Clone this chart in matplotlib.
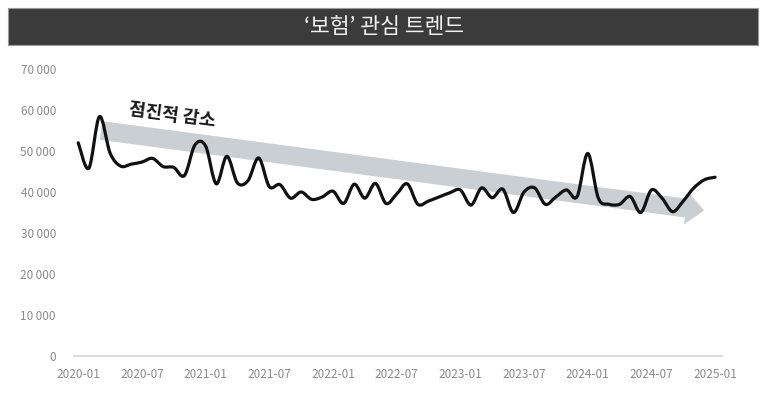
import numpy as np
import matplotlib
matplotlib.use('Agg')
import matplotlib.pyplot as plt
from matplotlib.path import Path
from matplotlib.patches import PathPatch, Polygon, Rectangle

plt.rcParams['font.family'] = ['Noto Sans CJK KR', 'DejaVu Sans']

# 월별 관심도 (2020-01 ~ 2025-01)
values = [52000, 45800, 58400, 49500, 46300, 46800, 47300, 48200, 46200, 46000,
          44000, 51500, 51200, 42000, 48700, 42200, 42800, 48300, 41300, 41800,
          38500, 40000, 38200, 38800, 40200, 37200, 41900, 38500, 42100, 37200,
          39500, 42000, 37000, 37800, 38800, 39800, 40500, 36800, 41000, 38600,
          40700, 35000, 40000, 41000, 37000, 38800, 40500, 38900, 49400, 38500,
          37000, 37000, 38900, 35000, 40500, 38500, 35200, 37800, 41000, 43000,
          43600]
tick_labels = ['2020-01', '2020-07', '2021-01', '2021-07', '2022-01', '2022-07',
               '2023-01', '2023-07', '2024-01', '2024-07', '2025-01']
yticks = [0, 10000, 20000, 30000, 40000, 50000, 60000, 70000]

W, H = 768, 396
fig = plt.figure(figsize=(W / 100, H / 100), dpi=100)

# 제목 바
fig.patches.append(Rectangle((8 / W, 1 - 45 / H), 750 / W, 37 / H, transform=fig.transFigure,
                             facecolor='#3b3b3b', edgecolor='#9a9a9a', linewidth=0.8))
fig.text(0.5, 1 - 27 / H, "\u2018보험\u2019 관심 트렌드", ha='center', va='center',
         color='#f2f2f2', fontsize=15.5)

ax = fig.add_axes([74 / W, 1 - 356 / H, (722 - 74) / W, (356 - 69) / H])

# 회색 화살표 (추세)
x0, y0, x1, y1 = 101.0, 130.5, 704.0, 210.5
d = np.array([x1 - x0, y1 - y0])
L = np.hypot(*d)
u = d / L
n = np.array([-u[1], u[0]])
hw, hh, hl = 9.4, 16.5, 18.0
p0 = np.array([x0, y0])
pb = p0 + u * (L - hl)
pts = [p0 - n * hw, pb - n * hw, pb - n * hh, np.array([x1, y1]),
       pb + n * hh, pb + n * hw, p0 + n * hw]
pts = [(p[0] / W, 1 - p[1] / H) for p in pts]
ax.add_patch(Polygon(pts, closed=True, transform=fig.transFigure, clip_on=False,
                     facecolor='#c9cfd2', edgecolor='none', zorder=1))
fig.text(172 / W, 1 - 115 / H, '점진적 감소', ha='center', va='center', rotation=-7.5,
         fontsize=13, fontweight='bold', color='#1a1a1a')

# 부드러운 선 (Excel 스타일 베지어)
x = np.arange(len(values), dtype=float)
y = np.array(values, dtype=float)
P = np.column_stack([x, y])
verts = [P[0]]
codes = [Path.MOVETO]
for i in range(len(P) - 1):
    pm = P[i - 1] if i > 0 else P[i]
    pn = P[i + 2] if i + 2 < len(P) else P[i + 1]
    c1 = P[i] + (P[i + 1] - pm) / 6
    c2 = P[i + 1] - (pn - P[i]) / 6
    verts += [c1, c2, P[i + 1]]
    codes += [Path.CURVE4] * 3
ax.add_patch(PathPatch(Path(verts, codes), facecolor='none', edgecolor='#111111',
                       linewidth=2.3, capstyle='round', joinstyle='round', zorder=3))

ax.set_xlim(-0.4, len(values) - 1 + 0.65)
ax.set_ylim(0, 70000)
ax.set_xticks(np.arange(0, len(values), 6))
ax.set_xticklabels(tick_labels)
ax.set_yticks(yticks)
ax.set_yticklabels([f'{v:,}'.replace(',', '\u2009') for v in yticks])
ax.tick_params(axis='both', length=0, labelsize=8.5, labelcolor='#8a8a8a')
ax.tick_params(axis='x', pad=9)
ax.tick_params(axis='y', pad=13)
for s in ['top', 'right', 'left']:
    ax.spines[s].set_visible(False)
ax.spines['bottom'].set_color('#d9d9d9')
ax.spines['bottom'].set_linewidth(1.3)
ax.patch.set_alpha(0)

fig.savefig('out.png', dpi=100)
